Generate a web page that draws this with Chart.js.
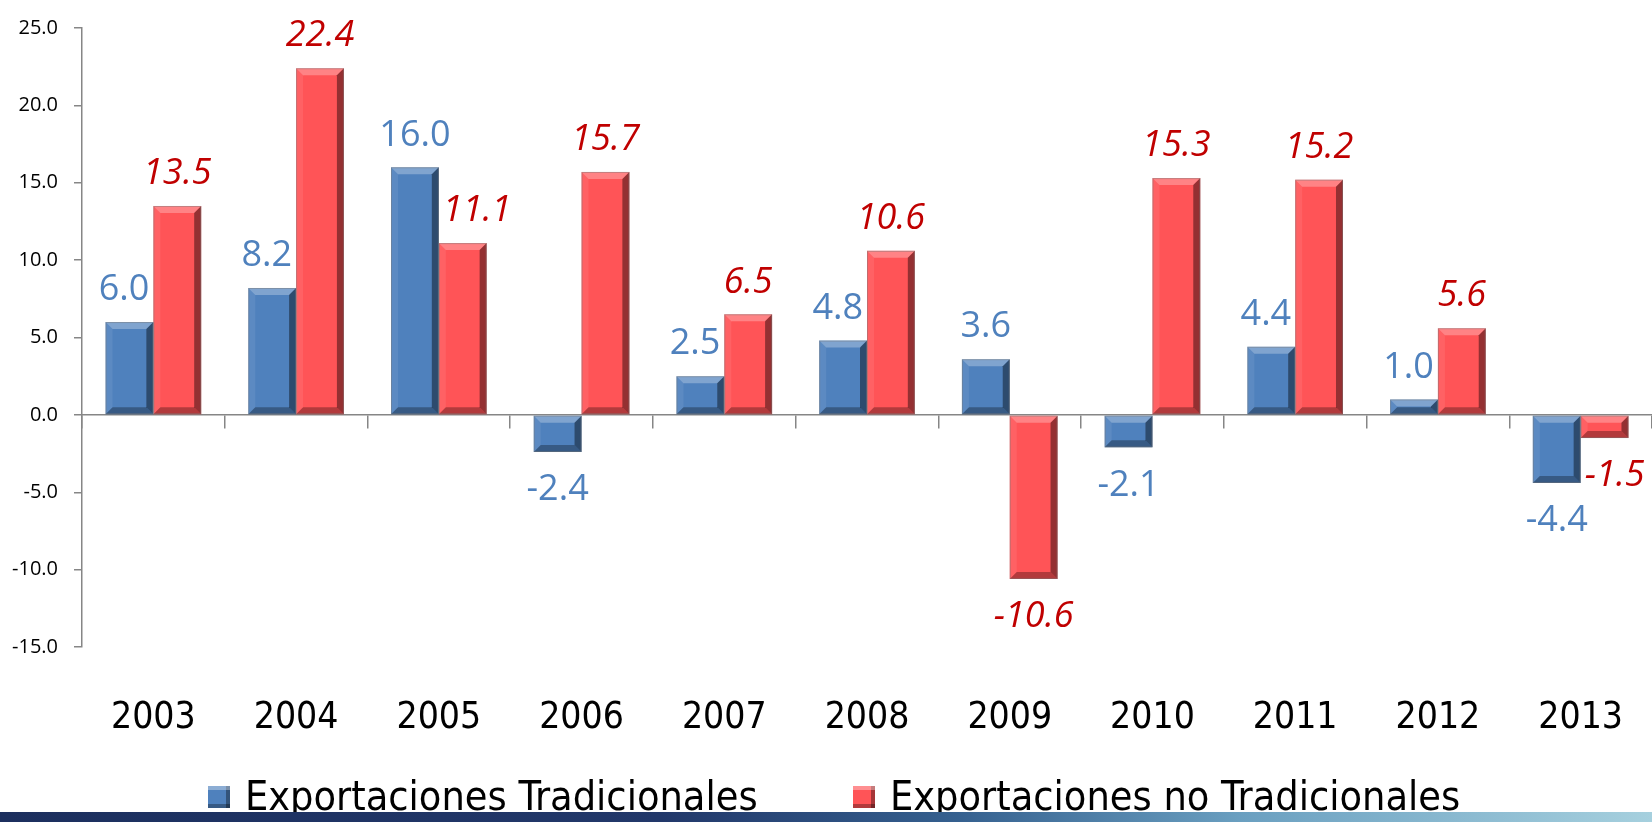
<!DOCTYPE html>
<html>
<head>
<meta charset="utf-8">
<title>Exportaciones</title>
<script src="https://cdn.jsdelivr.net/npm/chart.js@4.4.1/dist/chart.umd.min.js"></script>
<style>
    html, body { margin: 0; padding: 0; background: #fff; }
    #wrap { position: absolute; left: 0; top: 0; width: 1652px; height: 822px; }
    .legend-item {
        position: absolute; top: 776px; height: 41px; line-height: 41px;
        font-family: 'Liberation Sans Narrow', 'DejaVu Sans Condensed', sans-serif;
        font-size: 41px; color: #000; white-space: nowrap;
    }
    .legend-item .swatch {
        display: inline-block; width: 22px; height: 22px; margin-right: 15px; vertical-align: 2px;
        box-shadow: inset 0 4px 0 rgba(255,255,255,0.35), inset -4px 0 0 rgba(0,0,0,0.35), inset 0 -4px 0 rgba(0,0,0,0.3);
    }
    #banner {
        position: absolute; left: 0; top: 812px; width: 1652px; height: 10px;
        background: linear-gradient(90deg, #1c2f5e 0%, #22386a 40%, #35608f 58%, #6a9fc0 75%, #a6d0de 100%);
    }
</style>
</head>
<body>
<div id="wrap"><canvas id="barChart"></canvas></div>
<div id="legend"></div>
<div id="banner"></div>
<script>
const years = ['2003', '2004', '2005', '2006', '2007', '2008', '2009', '2010', '2011', '2012', '2013'];
const tradicionales = [6.0, 8.2, 16.0, -2.4, 2.5, 4.8, 3.6, -2.1, 4.4, 1.0, -4.4];
const noTradicionales = [13.5, 22.4, 11.1, 15.7, 6.5, 10.6, -10.6, 15.3, 15.2, 5.6, -1.5];
const seriesNames = ['Exportaciones Tradicionales', 'Exportaciones no Tradicionales'];
const yMin = -15, yMax = 25, yStep = 5;

const barColors = ['#4f81bd', '#ff5457'];
const labelColors = ['#4f81bd', '#c00000'];
const axisColor = '#868686';

// bevel look on each bar, using the bar elements' own geometry
const bevelPlugin = {
    id: 'bevel',
    afterDatasetsDraw(chart) {
        const ctx = chart.ctx;
        chart.data.datasets.forEach((ds, di) => {
            chart.getDatasetMeta(di).data.forEach(bar => {
                const l = bar.x - bar.width / 2, r = bar.x + bar.width / 2;
                const t = Math.min(bar.y, bar.base), b = Math.max(bar.y, bar.base);
                const h = b - t;
                const d = Math.min(7, h / 2, bar.width / 2);
                ctx.save();
                // top
                ctx.fillStyle = 'rgba(255,255,255,0.28)';
                ctx.beginPath(); ctx.moveTo(l, t); ctx.lineTo(r, t); ctx.lineTo(r - d, t + d); ctx.lineTo(l + d, t + d); ctx.closePath(); ctx.fill();
                // left
                ctx.fillStyle = 'rgba(255,255,255,0.08)';
                ctx.beginPath(); ctx.moveTo(l, t); ctx.lineTo(l + d, t + d); ctx.lineTo(l + d, b - d); ctx.lineTo(l, b); ctx.closePath(); ctx.fill();
                // right
                ctx.fillStyle = 'rgba(0,0,0,0.42)';
                ctx.beginPath(); ctx.moveTo(r, t); ctx.lineTo(r, b); ctx.lineTo(r - d, b - d); ctx.lineTo(r - d, t + d); ctx.closePath(); ctx.fill();
                // bottom
                ctx.fillStyle = 'rgba(0,0,0,0.3)';
                ctx.beginPath(); ctx.moveTo(l, b); ctx.lineTo(r, b); ctx.lineTo(r - d, b - d); ctx.lineTo(l + d, b - d); ctx.closePath(); ctx.fill();
                ctx.strokeStyle = 'rgba(120,120,120,0.45)';
                ctx.lineWidth = 1;
                ctx.strokeRect(l + 0.5, t + 0.5, bar.width - 1, h - 1);
                ctx.restore();
            });
        });
    }
};

// value labels outside the bar end; nudged sideways when they would sit on the neighbour bar
const valueLabels = {
    id: 'valueLabels',
    afterDatasetsDraw(chart) {
        const ctx = chart.ctx;
        chart.data.datasets.forEach((ds, di) => {
            const other = chart.getDatasetMeta(1 - di).data;
            ctx.save();
            ctx.font = (di === 1 ? 'italic ' : '') + '36px "Open Sans", sans-serif';
            ctx.fillStyle = labelColors[di];
            ctx.textAlign = 'center';
            ctx.textBaseline = 'middle';
            chart.getDatasetMeta(di).data.forEach((bar, i) => {
                const v = ds.data[i];
                const txt = v.toFixed(1);
                const w = ctx.measureText(txt).width;
                const y = v >= 0 ? bar.y - 32 : bar.y + 38;
                let x = bar.x;
                const nb = other[i];
                const nt = Math.min(nb.y, nb.base), nbot = Math.max(nb.y, nb.base);
                if (y + 12 > nt && y - 12 < nbot) {
                    if (nb.x < bar.x && x - w / 2 < nb.x + nb.width / 2 + 2) x = nb.x + nb.width / 2 + 4 + w / 2;
                    if (nb.x > bar.x && x + w / 2 > nb.x - nb.width / 2 - 2) x = nb.x - nb.width / 2 - 4 - w / 2;
                }
                ctx.fillText(txt, x, y);
            });
            ctx.restore();
        });
    }
};

const noSidePadding = s => { s.paddingLeft = 0; s.paddingRight = 0; };

const ctx = document.getElementById('barChart').getContext('2d');
const chart = new Chart(ctx, {
    type: 'bar',
    data: {
        labels: years,
        datasets: [
            { label: seriesNames[0], data: tradicionales, backgroundColor: barColors[0], borderWidth: 0 },
            { label: seriesNames[1], data: noTradicionales, backgroundColor: barColors[1], borderWidth: 0 }
        ]
    },
    options: {
        responsive: true,
        maintainAspectRatio: false,
        animation: false,
        categoryPercentage: 0.67,
        barPercentage: 1.0,
        layout: { padding: { top: 23, right: 0, bottom: 0, left: 0 } },
        plugins: {
            legend: { display: false },
            tooltip: { enabled: false }
        },
        scales: {
            y: {
                min: yMin,
                max: yMax,
                ticks: {
                    stepSize: yStep,
                    color: '#000',
                    padding: 16,
                    font: { family: '"Open Sans", sans-serif', size: 20 },
                    callback: v => v.toFixed(1)
                },
                grid: { drawOnChartArea: false, drawTicks: true, tickLength: 8, color: axisColor, lineWidth: 1.5 },
                border: { display: true, color: axisColor, width: 1.5 },
                afterFit: s => { s.width = 82; }
            },
            x: {
                type: 'category',
                position: { y: 0 },
                offset: true,
                ticks: { display: false },
                grid: { offset: true, drawOnChartArea: false, drawTicks: true, tickLength: 13, color: axisColor, lineWidth: 1.5 },
                border: { display: true, color: axisColor, width: 1.5 },
                afterFit: noSidePadding
            },
            x2: {
                type: 'category',
                position: 'bottom',
                labels: years,
                offset: true,
                ticks: {
                    color: '#000',
                    padding: 49,
                    font: { family: '"Liberation Sans Narrow", "DejaVu Sans Condensed", sans-serif', size: 37 }
                },
                grid: { display: false, drawTicks: false },
                border: { display: false },
                afterFit: s => { s.height = 175; noSidePadding(s); }
            }
        }
    },
    plugins: [bevelPlugin, valueLabels]
});

// legend built from the series names
const legendLeft = [208, 853];
const legend = document.getElementById('legend');
seriesNames.forEach((name, i) => {
    const item = document.createElement('div');
    item.className = 'legend-item';
    item.style.left = legendLeft[i] + 'px';
    item.innerHTML = `<span class="swatch" style="background:${barColors[i]}"></span>${name}`;
    legend.appendChild(item);
});
</script>
</body>
</html>
